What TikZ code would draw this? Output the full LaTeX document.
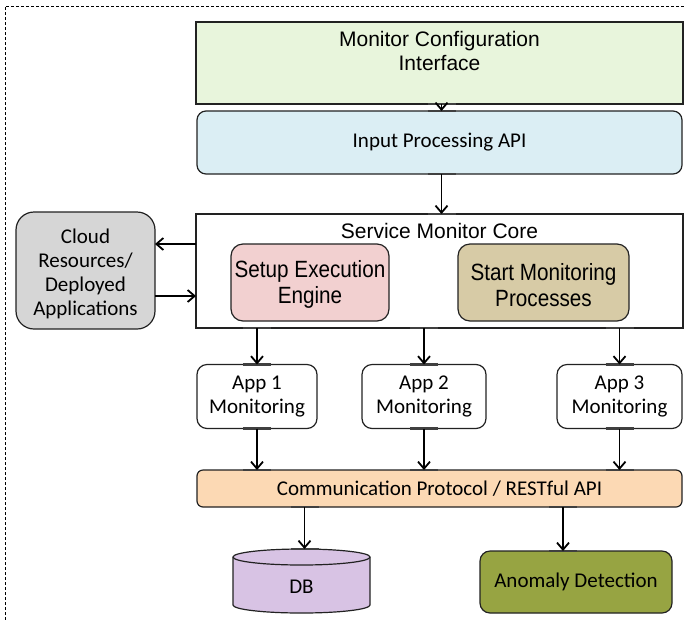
\documentclass[tikz,border=0pt]{standalone}
\usepackage{fontspec}
\setmainfont{Liberation Sans}
\newfontfamily\calfont{Carlito}
\newfontfamily\narrowfont[FakeStretch=0.88]{Liberation Sans}
\usetikzlibrary{arrows.meta,calc}
\definecolor{cfgc}{HTML}{E8F5DC}
\definecolor{inpc}{HTML}{DBEEF4}
\definecolor{setupc}{HTML}{F2D0D0}
\definecolor{startc}{HTML}{D7CBA6}
\definecolor{cloudc}{HTML}{D6D6D6}
\definecolor{commc}{HTML}{FCD9B4}
\definecolor{dbc}{HTML}{D8C3E4}
\definecolor{anomc}{HTML}{97A442}
\definecolor{edge}{HTML}{222222}
\begin{document}
\begin{tikzpicture}[x=1pt,y=-1pt,
  box/.style={draw=edge, line width=1.2pt, inner sep=0pt, outer sep=0pt, align=center,
    font=\fontsize{21}{24}\selectfont},
  cbox/.style={box, font=\calfont\fontsize{21}{24}\selectfont},
  nbox/.style={box, font=\narrowfont\fontsize{23.5}{26.5}\selectfont},
  txt/.style={inner sep=0pt, outer sep=0pt, align=center},
  arr/.style={-{Straight Barb[length=7pt,width=12pt,line width=1.8pt]}, line width=1.9pt, draw=black},
  glue/.style={line width=2.2pt, draw=black!75}]
\useasboundingbox (0,0) rectangle (684,619);
\draw[line width=0.6pt, dash pattern=on 3pt off 2pt] (5,630) -- (5,6) -- (690,6);

\node[box, fill=cfgc, minimum width=487pt, minimum height=82pt] (cfg) at (439.5,63) {};
\node[txt, font=\fontsize{21}{24}\selectfont] (cfgtext) at (439.5,51) {Monitor Configuration\\Interface};
\node[cbox, fill=inpc, rounded corners=9pt, minimum width=485pt, minimum height=63pt] (inp) at (439.5,142.5) {Input Processing API};
\node[box, minimum width=487pt, minimum height=114pt] (core) at (439.5,271) {};
\node[txt, font=\fontsize{21}{24}\selectfont] (coretitle) at (439.5,231) {Service Monitor Core};
\node[nbox, fill=setupc, rounded corners=12pt, minimum width=158pt, minimum height=77pt] (setup) at (310,282.5) {};
\node[txt, font=\narrowfont\fontsize{23.5}{26.5}\selectfont] (setuptext) at (310,284.5) {Setup Execution\\Engine};
\node[nbox, fill=startc, rounded corners=12pt, minimum width=171pt, minimum height=77pt] (start) at (543.5,282.5) {};
\node[txt, font=\narrowfont\fontsize{23.5}{26.5}\selectfont] (starttext) at (543.5,285) {Start Monitoring\\Processes};
\node[cbox, fill=cloudc, rounded corners=18pt, minimum width=139pt, minimum height=117pt] (cloud) at (85.5,270.5) {};
\node[txt, font=\calfont\fontsize{21}{24}\selectfont] (cloudtext) at (85.5,273.5) {Cloud\\Resources/\\Deployed\\Applications};

\node[cbox, rounded corners=10pt, minimum width=120pt, minimum height=64pt] (app1) at (257,396.5) {App 1\\Monitoring};
\node[cbox, rounded corners=10pt, minimum width=124pt, minimum height=64pt] (app2) at (424,396.5) {App 2\\Monitoring};
\node[cbox, rounded corners=10pt, minimum width=125pt, minimum height=64pt] (app3) at (619.5,396.5) {App 3\\Monitoring};

\node[cbox, fill=commc, rounded corners=6pt, minimum width=485pt, minimum height=37pt] (comm) at (439.5,488.5) {Communication Protocol / RESTful API};

\node[inner sep=0pt, outer sep=0pt, minimum width=137pt, minimum height=64pt] (db) at (301.5,581) {};
\filldraw[draw=edge, fill=dbc, line width=1.2pt]
  ([yshift=-8pt]db.north west) -- ([yshift=8pt]db.south west)
  arc[start angle=180, end angle=360, x radius=68.5pt, y radius=8pt]
  -- ([yshift=-8pt]db.north east)
  arc[start angle=0, end angle=180, x radius=68.5pt, y radius=8pt] -- cycle;
\draw[draw=edge, line width=1.2pt] ([yshift=-8pt]db.north west)
  arc[start angle=180, end angle=360, x radius=68.5pt, y radius=8pt];
\node[txt, font=\calfont\fontsize{21}{24}\selectfont] (dblabel) at (301.5,587) {DB};

\node[cbox, fill=anomc, rounded corners=10pt, minimum width=192pt, minimum height=62pt] (anom) at (576,582) {Anomaly Detection};

% connectors
\coordinate (t1) at ([xshift=2pt]cfg.south);
\draw[glue] ([xshift=-14pt]t1) -- ([xshift=14pt]t1);
\draw[glue] ([xshift=-14pt]t1 |- inp.north) -- ([xshift=14pt]t1 |- inp.north);
\draw[arr] (t1) -- (t1 |- inp.north);
\coordinate (t2) at ([xshift=2pt]inp.south);
\draw[glue] ([xshift=-14pt]t2) -- ([xshift=14pt]t2);
\draw[glue] ([xshift=-14pt]t2 |- core.north) -- ([xshift=14pt]t2 |- core.north);
\draw[arr] (t2) -- (t2 |- core.north);
\coordinate (c1) at ([yshift=26.5pt]cloud.east);
\coordinate (c2) at ([yshift=-25.5pt]cloud.east);
\draw[arr] (c1 -| core.west) -- (c1);
\draw[arr] (c2) -- (c2 -| core.west);
\foreach \a in {app1,app2,app3}{
  \draw[glue] ([xshift=-14pt]core.south -| \a.north) -- ([xshift=14pt]core.south -| \a.north);
  \draw[glue] ([xshift=-14pt]\a.north) -- ([xshift=14pt]\a.north);
  \draw[glue] ([xshift=-14pt]\a.south) -- ([xshift=14pt]\a.south);
  \draw[glue] ([xshift=-14pt]\a.south |- comm.north) -- ([xshift=14pt]\a.south |- comm.north);
  \draw[arr] (core.south -| \a.north) -- (\a.north);
  \draw[arr] (\a.south) -- (\a.south |- comm.north);
}
\coordinate (d1) at ([xshift=3pt]db.north);
\draw[glue] ([xshift=-14pt]d1 |- comm.south) -- ([xshift=14pt]d1 |- comm.south);
\draw[glue] ([xshift=-14pt]d1) -- ([xshift=14pt]d1);
\draw[arr] (d1 |- comm.south) -- (d1);
\coordinate (a1) at ([xshift=-13pt]anom.north);
\draw[glue] ([xshift=-14pt]a1 |- comm.south) -- ([xshift=14pt]a1 |- comm.south);
\draw[glue] ([xshift=-14pt]a1) -- ([xshift=14pt]a1);
\draw[arr] (a1 |- comm.south) -- (a1);
\end{tikzpicture}
\end{document}
